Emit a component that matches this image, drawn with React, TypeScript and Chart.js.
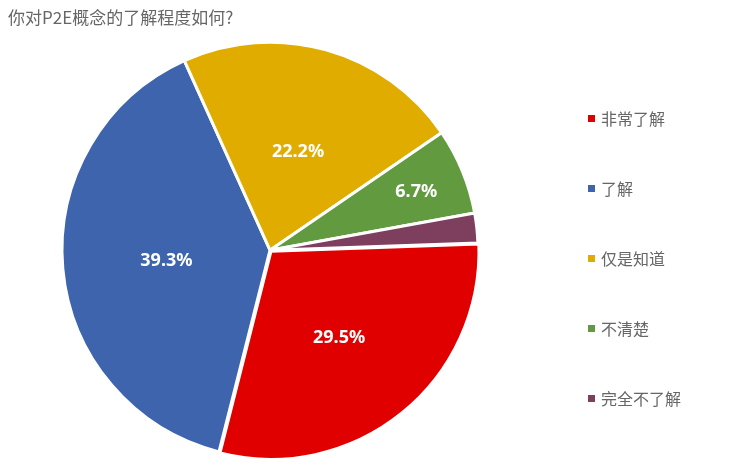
import { useEffect, useRef } from 'react'
import { Chart, registerables } from 'chart.js'

Chart.register(...registerables)

const title = '你对P2E概念的了解程度如何?'
const categories = ['非常了解', '了解', '仅是知道', '不清楚', '完全不了解']
const shares = [29.5, 39.3, 22.2, 6.7, 2.3]
const colors = ['#E00000', '#3D64AC', '#E0AC00', '#629A3F', '#7E3F5F']

// percentage labels inside the slices
const sliceLabels = {
  id: 'sliceLabels',
  afterDatasetsDraw(chart) {
    const { ctx } = chart
    const meta = chart.getDatasetMeta(0)
    ctx.save()
    ctx.font = 'bold 18px "Noto Sans", "Open Sans", sans-serif'
    ctx.fillStyle = '#ffffff'
    ctx.textAlign = 'center'
    ctx.textBaseline = 'middle'
    meta.data.forEach((arc, i) => {
      const v = shares[i]
      if (v < 3) return
      const { x, y, startAngle, endAngle, outerRadius } = arc.getProps(['x', 'y', 'startAngle', 'endAngle', 'outerRadius'])
      const mid = (startAngle + endAngle) / 2
      const off = arc.options.offset || 0
      const f = v < 10 ? 0.76 : 0.5
      const cx = x + Math.cos(mid) * off
      const cy = y + Math.sin(mid) * off
      ctx.fillText(v.toFixed(1) + '%', cx + Math.cos(mid) * outerRadius * f, cy + 2 + Math.sin(mid) * outerRadius * f)
    })
    ctx.restore()
  }
}

export default function App() {
  const chartRef = useRef(null)
  const chartInstance = useRef(null)

  useEffect(() => {
    if (!chartRef.current) return
    if (chartInstance.current) chartInstance.current.destroy()

    chartInstance.current = new Chart(chartRef.current.getContext('2d'), {
      type: 'pie',
      data: {
        labels: categories,
        datasets: [{
          data: shares,
          backgroundColor: colors,
          borderColor: '#ffffff',
          borderWidth: 3,
          offset: [6, 0, 0, 0, 0],
          clip: false
        }]
      },
      options: {
        responsive: false,
        animation: false,
        rotation: 88,
        radius: 208,
        layout: { padding: { left: 8, right: 202, top: 0, bottom: 2 } },
        plugins: {
          legend: { display: false },
          tooltip: { enabled: false },
          title: {
            display: true,
            text: title,
            align: 'start',
            color: '#666666',
            font: { family: '"Noto Sans CJK SC", "Noto Sans", sans-serif', size: 17, weight: 'normal' },
            padding: { top: 7, bottom: 6 }
          }
        }
      },
      plugins: [sliceLabels]
    })

    return () => {
      if (chartInstance.current) {
        chartInstance.current.destroy()
        chartInstance.current = null
      }
    }
  }, [])

  return (
    <div style={{ position: 'fixed', left: 0, top: 0, width: 734, height: 469, background: '#fff' }}>
      <canvas ref={chartRef} width={734} height={469} style={{ width: 734, height: 469 }} />
      {categories.map((c, i) => (
        <div
          key={c}
          style={{
            position: 'absolute',
            left: 588,
            top: 107 + i * 70,
            height: 22,
            display: 'flex',
            alignItems: 'center',
            fontFamily: '"Noto Sans CJK SC", sans-serif',
            fontSize: 16,
            color: '#666666',
            whiteSpace: 'nowrap'
          }}
        >
          <span style={{ display: 'inline-block', width: 7, height: 7, background: colors[i], marginRight: 6 }} />
          {c}
        </div>
      ))}
    </div>
  )
}
